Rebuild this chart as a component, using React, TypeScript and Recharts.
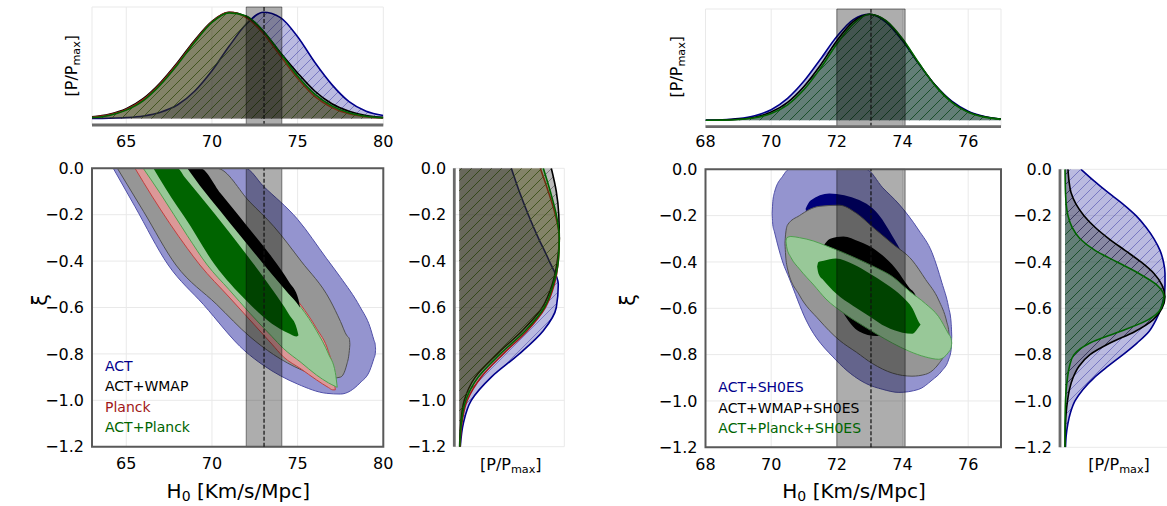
import React from "react";
import {
  ComposedChart,
  Area,
  XAxis,
  YAxis,
  CartesianGrid,
  ReferenceArea,
  ReferenceLine,
} from "recharts";

const FONT = "'DejaVu Sans', sans-serif";
const GRID = "#e9e9e9";
const SPINE = "#6a6a6a";
const FRAME = "#595959";

const C_ACT = "#00008b";
const C_WMAP = "#000000";
const C_PLANCK = "#a01818";
const C_ACTPL = "#006400";

// SH0ES prior band
const shoesLow = 72.0;
const shoesHigh = 74.08;
const shoesMean = 73.04;

const hTicksL = [65, 70, 75, 80];
const hTicksR = [68, 70, 72, 74, 76];
const xiTicks = [0, -0.2, -0.4, -0.6, -0.8, -1.0, -1.2];
const pTicks = [0, 0.5, 1];

// ---- left panel, H0 marginal ----
const h0GridL = [63, 64, 65, 66, 67, 68, 69, 70, 71, 72, 73, 74, 75, 76, 77, 78, 79, 80];
const pActL = [0.002, 0.004, 0.01, 0.025, 0.06, 0.13, 0.26, 0.45, 0.68, 0.89, 1.0, 0.95, 0.77, 0.53, 0.32, 0.16, 0.07, 0.03];
const pWmapL = [0.016, 0.041, 0.093, 0.19, 0.34, 0.53, 0.74, 0.915, 1.0, 0.96, 0.82, 0.62, 0.43, 0.26, 0.14, 0.07, 0.03, 0.012];
const pPlanckL = [0.012, 0.035, 0.085, 0.18, 0.33, 0.52, 0.73, 0.91, 1.0, 0.95, 0.8, 0.59, 0.38, 0.21, 0.105, 0.045, 0.017, 0.006];
const pActPlL = [0.01, 0.03, 0.08, 0.17, 0.32, 0.51, 0.72, 0.905, 0.995, 0.965, 0.825, 0.615, 0.4, 0.23, 0.12, 0.055, 0.022, 0.008];

// ---- right panel, H0 marginal ----
const h0GridR = [68, 68.5, 69, 69.5, 70, 70.5, 71, 71.5, 72, 72.5, 73, 73.5, 74, 74.5, 75, 75.5, 76, 76.5, 77];
const pActR = [0.0016, 0.0055, 0.017, 0.044, 0.1, 0.207, 0.37, 0.576, 0.79, 0.95, 1.0, 0.924, 0.75, 0.53, 0.33, 0.18, 0.087, 0.037, 0.013];
const pWmapR = [0.001, 0.003, 0.011, 0.03, 0.078, 0.17, 0.32, 0.52, 0.75, 0.93, 1.0, 0.935, 0.76, 0.535, 0.33, 0.175, 0.08, 0.033, 0.012];
const pActPlR = [0.0005, 0.002, 0.008, 0.024, 0.064, 0.146, 0.29, 0.49, 0.72, 0.91, 1.0, 0.94, 0.77, 0.54, 0.325, 0.17, 0.076, 0.03, 0.01];

// ---- left panel, xi marginal (xi ascending) ----
const xiGridL = [-1.2, -1.1, -1.0, -0.9, -0.8, -0.7, -0.6, -0.5, -0.4, -0.3, -0.2, -0.1, 0];
const qActL = [0.01, 0.04, 0.12, 0.32, 0.6, 0.84, 0.97, 0.99, 0.9, 0.79, 0.69, 0.6, 0.52];
const qWmapL = [0.003, 0.015, 0.05, 0.16, 0.38, 0.63, 0.83, 0.93, 0.98, 1.0, 0.995, 0.97, 0.92];
const qPlanckL = [0.008, 0.025, 0.08, 0.22, 0.44, 0.68, 0.86, 0.95, 0.99, 1.0, 0.96, 0.89, 0.81];
const qActPlL = [0.005, 0.02, 0.065, 0.19, 0.41, 0.66, 0.85, 0.94, 0.99, 1.0, 0.97, 0.91, 0.84];

// ---- right panel, xi marginal (xi ascending) ----
const xiGridR = [
  -1.2, -1.15, -1.1, -1.05, -1.0, -0.95, -0.9, -0.85, -0.8, -0.75, -0.7, -0.65, -0.6,
  -0.55, -0.5, -0.45, -0.4, -0.35, -0.3, -0.25, -0.2, -0.15, -0.1, -0.05, 0,
];
const qActR = [0.005, 0.012, 0.028, 0.055, 0.1, 0.18, 0.29, 0.43, 0.58, 0.72, 0.84, 0.91, 0.96, 0.99, 1.0, 1.0, 0.985, 0.95, 0.89, 0.81, 0.71, 0.58, 0.43, 0.29, 0.16];
const qWmapR = [0.0, 0.002, 0.005, 0.012, 0.025, 0.045, 0.08, 0.14, 0.25, 0.45, 0.7, 0.88, 0.97, 1.0, 0.97, 0.89, 0.76, 0.6, 0.44, 0.3, 0.19, 0.11, 0.06, 0.04, 0.03];
const qActPlR = [0, 0, 0, 0.002, 0.005, 0.012, 0.025, 0.045, 0.09, 0.25, 0.55, 0.83, 0.96, 0.99, 0.92, 0.74, 0.52, 0.3, 0.15, 0.07, 0.03, 0.012, 0.005, 0.002, 0];

// ---- 2D contours: [H0, xi lower edge, xi upper edge] ----
type Row = [number, number, number];

const ctActL2: Row[] = [
  [64.24, 0, 0], [65.5, -0.164, 0], [67.45, -0.417, 0], [69.5, -0.587, 0], [71.93, -0.788, 0],
  [73, -0.849, -0.077], [75, -0.93, -0.22], [76.7, -0.97, -0.39], [77.5, -0.973, -0.47],
  [78.64, -0.925, -0.597], [79.22, -0.87, -0.683], [79.45, -0.82, -0.74], [79.53, -0.8, -0.76],
  [79.55, -0.78, -0.78],
];
const ctWmapL2: Row[] = [
  [64.48, 0, 0], [66, -0.185, 0], [67.9, -0.417, 0], [70.28, -0.587, 0], [72.22, -0.726, -0.146],
  [73.6, -0.803, -0.25], [75.2, -0.868, -0.4], [76.89, -0.906, -0.568], [77.5, -0.9, -0.66],
  [77.86, -0.848, -0.72], [78.02, -0.785, -0.735], [78.05, -0.76, -0.76],
];
const ctPlanckL2: Row[] = [
  [65.51, 0, 0], [66.5, -0.12, 0], [68.56, -0.345, 0], [69.3, -0.417, -0.06], [71, -0.555, -0.2],
  [72.22, -0.654, -0.31], [73.5, -0.758, -0.44], [74.16, -0.812, -0.5], [75.2, -0.865, -0.59],
  [76.1, -0.912, -0.69], [76.8, -0.945, -0.79], [77.05, -0.955, -0.86], [77.2, -0.955, -0.955],
];
const ctActPlL2: Row[] = [
  [65.99, 0, 0], [67, -0.11, 0], [68.56, -0.29, 0], [69.73, -0.417, -0.102], [71, -0.523, -0.214],
  [72.22, -0.625, -0.322], [73.5, -0.725, -0.45], [74.16, -0.776, -0.511], [75.2, -0.837, -0.6],
  [76.1, -0.891, -0.7], [76.8, -0.925, -0.8], [77.2, -0.94, -0.88], [77.31, -0.944, -0.944],
];
const ctActPlL1: Row[] = [
  [66.58, 0, 0], [67.98, -0.165, 0], [68.4, -0.21, -0.037], [70.18, -0.417, -0.198],
  [72, -0.57, -0.37], [73.5, -0.67, -0.52], [74.5, -0.712, -0.63], [74.95, -0.725, -0.69],
  [75.05, -0.72, -0.72],
];
const ctWmapL1: Row[] = [
  [68.56, 0, 0], [69.3, -0.075, 0], [70.5, -0.185, -0.108], [71.5, -0.277, -0.198],
  [72.5, -0.367, -0.29], [73.5, -0.457, -0.383], [74.5, -0.543, -0.49], [75.05, -0.59, -0.565],
  [75.14, -0.6, -0.6],
];

const ctActR2: Row[] = [
  [70.03, -0.19, -0.19], [70.05, -0.24, -0.14], [70.1, -0.27, -0.1], [70.35, -0.4, -0.03],
  [70.55, -0.47, 0], [71.06, -0.65, 0], [71.97, -0.823, 0], [72.88, -0.924, 0], [73.4, -0.95, -0.08],
  [73.89, -0.963, -0.15], [74.49, -0.95, -0.262], [74.9, -0.91, -0.36], [75.2, -0.87, -0.49],
  [75.4, -0.823, -0.593], [75.48, -0.78, -0.66], [75.5, -0.72, -0.72],
];
const ctActR1: Row[] = [
  [71.05, -0.17, -0.17], [71.2, -0.28, -0.135], [71.77, -0.38, -0.104], [72.68, -0.48, -0.133],
  [73.28, -0.52, -0.197], [73.7, -0.52, -0.29], [74.0, -0.45, -0.37], [74.1, -0.41, -0.41],
];
const ctWmapR2: Row[] = [
  [70.42, -0.32, -0.32], [70.44, -0.37, -0.28], [70.5, -0.43, -0.24], [70.86, -0.543, -0.2],
  [71.46, -0.65, -0.16], [72.07, -0.737, -0.155], [72.6, -0.79, -0.19], [73.08, -0.838, -0.248],
  [73.7, -0.88, -0.322], [74.29, -0.893, -0.392], [74.7, -0.885, -0.475], [75.1, -0.84, -0.564],
  [75.35, -0.78, -0.66], [75.41, -0.755, -0.7], [75.42, -0.73, -0.73],
];
const ctWmapR1: Row[] = [
  [71.55, -0.34, -0.34], [71.8, -0.5, -0.3], [72.2, -0.62, -0.29], [72.68, -0.7, -0.312],
  [73.2, -0.72, -0.35], [73.8, -0.7, -0.43], [74.2, -0.64, -0.51], [74.4, -0.6, -0.545],
  [74.44, -0.57, -0.57],
];
const ctActPlR2: Row[] = [
  [70.45, -0.31, -0.31], [70.48, -0.34, -0.295], [70.6, -0.38, -0.29], [70.86, -0.43, -0.295],
  [71.3, -0.5, -0.31], [71.67, -0.56, -0.33], [72.2, -0.62, -0.36], [72.68, -0.665, -0.39],
  [73.2, -0.71, -0.425], [73.69, -0.75, -0.463], [74.2, -0.785, -0.525], [74.7, -0.81, -0.58],
  [75.1, -0.82, -0.636], [75.4, -0.79, -0.71], [75.48, -0.77, -0.73], [75.5, -0.75, -0.75],
];
const ctActPlR1: Row[] = [
  [71.4, -0.42, -0.42], [71.44, -0.45, -0.4], [71.6, -0.48, -0.395], [71.97, -0.535, -0.385],
  [72.5, -0.59, -0.41], [73.0, -0.635, -0.45], [73.5, -0.68, -0.495], [74.0, -0.705, -0.55],
  [74.3, -0.71, -0.6], [74.5, -0.68, -0.66], [74.55, -0.67, -0.67],
];

const legendL = ["ACT", "ACT+WMAP", "Planck", "ACT+Planck"];
const legendLColors = [C_ACT, C_WMAP, C_PLANCK, C_ACTPL];
const legendR = ["ACT+SH0ES", "ACT+WMAP+SH0ES", "ACT+Planck+SH0ES"];
const legendRColors = [C_ACT, C_WMAP, C_ACTPL];

type Series = { key: string; color: string; values: number[] };

const topSeriesL: Series[] = [
  { key: "act", color: C_ACT, values: pActL },
  { key: "wmap", color: C_WMAP, values: pWmapL },
  { key: "planck", color: C_PLANCK, values: pPlanckL },
  { key: "actpl", color: C_ACTPL, values: pActPlL },
];
const topSeriesR: Series[] = [
  { key: "act", color: C_ACT, values: pActR },
  { key: "wmap", color: C_WMAP, values: pWmapR },
  { key: "actpl", color: C_ACTPL, values: pActPlR },
];
const sideSeriesL: Series[] = [
  { key: "act", color: C_ACT, values: qActL },
  { key: "wmap", color: C_WMAP, values: qWmapL },
  { key: "planck", color: C_PLANCK, values: qPlanckL },
  { key: "actpl", color: C_ACTPL, values: qActPlL },
];
const sideSeriesR: Series[] = [
  { key: "act", color: C_ACT, values: qActR },
  { key: "wmap", color: C_WMAP, values: qWmapR },
  { key: "actpl", color: C_ACTPL, values: qActPlR },
];

const tickStyle = { fontSize: 16, fill: "#000", fontFamily: FONT };
const fmtXi = (v: number) => (v === 0 ? "0.0" : v.toFixed(1).replace("-", "\u2212"));

const toRange = (rows: Row[]) => rows.map(([x, lo, hi]) => ({ x, r: [lo, hi] }));
const buildRows = (gridKey: string, grid: number[], series: Series[]) =>
  grid.map((g, i) => {
    const row: Record<string, number> = { [gridKey]: g };
    series.forEach((s) => (row[s.key] = s.values[i]));
    return row;
  });

function Hatch({ id, color }: { id: string; color: string }) {
  return (
    <pattern id={id} patternUnits="userSpaceOnUse" width={10} height={10}>
      <rect width={10} height={10} fill={color} fillOpacity={0.27} />
      <path d="M-1,1 L1,-1 M0,10 L10,0 M9,11 L11,9" stroke={color} strokeOpacity={0.4} strokeWidth={0.9} />
    </pattern>
  );
}

function contour(key: string, rows: Row[], fill: string, stroke = "none") {
  return (
    <Area
      key={key}
      data={toRange(rows)}
      dataKey="r"
      type="monotone"
      fill={fill}
      fillOpacity={1}
      stroke={stroke}
      strokeWidth={1}
      dot={false}
      activeDot={false}
      isAnimationActive={false}
    />
  );
}

type Box = { left: number; top: number; width: number; height: number; mt: number; mr: number; yw: number; xh: number };

const boxTopL: Box = { left: 0, top: 0, width: 400, height: 165, mt: 7, mr: 16.7, yw: 92, xh: 40 };
const boxMainL: Box = { left: 0, top: 160, width: 400, height: 320, mt: 8.3, mr: 16.7, yw: 92, xh: 33.3 };
const boxSideL: Box = { left: 400, top: 160, width: 170, height: 320, mt: 8.3, mr: 5.7, yw: 54.3, xh: 33.3 };
const boxTopR: Box = { left: 600, top: 0, width: 420, height: 165, mt: 9, mr: 19, yw: 105.5, xh: 38.3 };
const boxMainR: Box = { left: 600, top: 160, width: 420, height: 320, mt: 9.3, mr: 19, yw: 105.5, xh: 32.7 };
const boxSideR: Box = { left: 1000, top: 160, width: 170, height: 320, mt: 9.3, mr: 0, yw: 60, xh: 32.7 };

function TopMarginal({ box, domain, ticks, grid, series, tickMargin, id }: {
  box: Box; domain: [number, number]; ticks: number[]; grid: number[]; series: Series[]; tickMargin: number; id: string;
}) {
  const rows = buildRows("h", grid, series);
  return (
    <div style={{ position: "absolute", left: box.left, top: box.top }}>
      <ComposedChart width={box.width} height={box.height} data={rows} margin={{ top: box.mt, right: box.mr, bottom: 0, left: 0 }}>
        <defs>
          {series.map((s) => (
            <Hatch key={s.key} id={`${id}-${s.key}`} color={s.color} />
          ))}
        </defs>
        <CartesianGrid stroke={GRID} />
        {series.map((s) => (
          <Area
            key={s.key}
            type="monotone"
            dataKey={s.key}
            stroke={s.color}
            strokeWidth={1.6}
            fill={`url(#${id}-${s.key})`}
            fillOpacity={1}
            dot={false}
            activeDot={false}
            isAnimationActive={false}
          />
        ))}
        <ReferenceArea x1={shoesLow} x2={shoesHigh} fill="#000" fillOpacity={0.32} stroke="#000" strokeOpacity={0.45} strokeWidth={1} />
        <ReferenceLine x={shoesMean} stroke="#111" strokeWidth={1.2} strokeDasharray="4 2" />
        <XAxis
          type="number"
          dataKey="h"
          domain={domain}
          ticks={ticks}
          allowDataOverflow
          height={box.xh}
          tickLine={false}
          axisLine={{ stroke: SPINE, strokeWidth: 2.8 }}
          tickMargin={tickMargin}
          tick={tickStyle}
          interval={0}
        />
        <YAxis type="number" domain={[-0.06, 1.05]} ticks={pTicks} allowDataOverflow width={box.yw} tick={false} tickLine={false} axisLine={false} />
      </ComposedChart>
    </div>
  );
}

function MainPanel({ box, domain, ticks, children }: {
  box: Box; domain: [number, number]; ticks: number[]; children: React.ReactNode;
}) {
  return (
    <div style={{ position: "absolute", left: box.left, top: box.top }}>
      <ComposedChart width={box.width} height={box.height} margin={{ top: box.mt, right: box.mr, bottom: 0, left: 0 }}>
        <CartesianGrid stroke={GRID} />
        {children}
        <ReferenceArea x1={shoesLow} x2={shoesHigh} fill="#000" fillOpacity={0.32} stroke="#000" strokeOpacity={0.45} strokeWidth={1} />
        <ReferenceLine x={shoesMean} stroke="#111" strokeWidth={1.2} strokeDasharray="4 2" />
        <XAxis
          type="number"
          dataKey="x"
          domain={domain}
          ticks={ticks}
          allowDataOverflow
          height={box.xh}
          tickLine={false}
          axisLine={false}
          tickMargin={5}
          tick={tickStyle}
          interval={0}
        />
        <YAxis
          type="number"
          domain={[-1.2, 0]}
          ticks={xiTicks}
          allowDataOverflow
          width={box.yw}
          tickLine={false}
          axisLine={false}
          tickFormatter={fmtXi}
          tick={tickStyle}
          interval={0}
        />
        <ReferenceArea x1={domain[0]} x2={domain[1]} y1={-1.2} y2={0} fill="none" stroke={FRAME} strokeWidth={2} />
      </ComposedChart>
    </div>
  );
}

function SideMarginal({ box, grid, series, id }: { box: Box; grid: number[]; series: Series[]; id: string }) {
  const rows = buildRows("xi", grid, series);
  return (
    <div style={{ position: "absolute", left: box.left, top: box.top }}>
      <ComposedChart layout="vertical" width={box.width} height={box.height} data={rows} margin={{ top: box.mt, right: box.mr, bottom: 0, left: 0 }}>
        <defs>
          {series.map((s) => (
            <Hatch key={s.key} id={`${id}-${s.key}`} color={s.color} />
          ))}
        </defs>
        <CartesianGrid stroke={GRID} />
        {series.map((s) => (
          <Area
            key={s.key}
            type="monotone"
            dataKey={s.key}
            stroke={s.color}
            strokeWidth={1.6}
            fill={`url(#${id}-${s.key})`}
            fillOpacity={1}
            dot={false}
            activeDot={false}
            isAnimationActive={false}
          />
        ))}
        <XAxis type="number" domain={[-0.05, 1.05]} ticks={pTicks} allowDataOverflow height={box.xh} tick={false} tickLine={false} axisLine={false} />
        <YAxis
          type="number"
          dataKey="xi"
          domain={[-1.2, 0]}
          ticks={xiTicks}
          reversed
          allowDataOverflow
          width={box.yw}
          tickLine={false}
          axisLine={{ stroke: SPINE, strokeWidth: 2.8 }}
          tickFormatter={fmtXi}
          tick={tickStyle}
          interval={0}
        />
      </ComposedChart>
    </div>
  );
}

function PLabel({ x, y, rotate }: { x: number; y: number; rotate?: boolean }) {
  return (
    <text x={x} y={y} textAnchor="middle" fontSize={16} transform={rotate ? `rotate(-90 ${x} ${y})` : undefined}>
      [P/P<tspan fontSize={11.2} dy={3}>max</tspan>
      <tspan dy={-3}>]</tspan>
    </text>
  );
}

function HLabel({ x, y }: { x: number; y: number }) {
  return (
    <text x={x} y={y} textAnchor="middle" fontSize={20} style={{ whiteSpace: "pre" }}>
      H<tspan fontSize={14} dy={3}>0</tspan>
      <tspan dy={-3}> [Km/s/Mpc]</tspan>
    </text>
  );
}

function Labels() {
  return (
    <svg width={1167} height={506} style={{ position: "absolute", left: 0, top: 0, pointerEvents: "none" }} fontFamily={FONT}>
      <PLabel x={77.5} y={65.7} rotate />
      <PLabel x={682.5} y={66.7} rotate />
      <PLabel x={510.8} y={470} />
      <PLabel x={1119} y={470} />
      <HLabel x={238.3} y={498} />
      <HLabel x={854} y={498} />
      <text x={47} y={300} fontSize={21} textAnchor="middle" transform="rotate(-90 47 300)">ξ</text>
      <text x={635} y={300} fontSize={21} textAnchor="middle" transform="rotate(-90 635 300)">ξ</text>
      {legendL.map((t, i) => (
        <text key={t} x={105} y={370.7 + i * 20.5} fontSize={14} fill={legendLColors[i]}>{t}</text>
      ))}
      {legendR.map((t, i) => (
        <text key={t} x={718.3} y={391.7 + i * 20.8} fontSize={14} fill={legendRColors[i]}>{t}</text>
      ))}
    </svg>
  );
}

export default function App() {
  return (
    <div style={{ position: "absolute", left: 0, top: 0, width: 1167, height: 506, overflow: "hidden", background: "#fff", fontFamily: FONT }}>
      <TopMarginal box={boxTopL} domain={[63, 80]} ticks={hTicksL} grid={h0GridL} series={topSeriesL} tickMargin={4.5} id="tl" />
      <TopMarginal box={boxTopR} domain={[68, 77]} ticks={hTicksR} grid={h0GridR} series={topSeriesR} tickMargin={2.5} id="tr" />
      <MainPanel box={boxMainL} domain={[63, 80]} ticks={hTicksL}>
        {contour("a2", ctActL2, "#9494cf", "#5050a8")}
        {contour("w2", ctWmapL2, "#969696", "#505050")}
        {contour("p2", ctPlanckL2, "#dc9898", "#c04040")}
        {contour("ap2", ctActPlL2, "#98c898", "#50a050")}
        {contour("ap1", ctActPlL1, "#006400")}
        {contour("w1", ctWmapL1, "#000000")}
      </MainPanel>
      <MainPanel box={boxMainR} domain={[68, 77]} ticks={hTicksR}>
        {contour("a2", ctActR2, "#9494cf", "#5050a8")}
        {contour("a1", ctActR1, "#00007a")}
        {contour("w2", ctWmapR2, "#969696", "#505050")}
        {contour("w1", ctWmapR1, "#000000")}
        {contour("ap2", ctActPlR2, "#98c898", "#50a050")}
        {contour("ap1", ctActPlR1, "#006400")}
      </MainPanel>
      <SideMarginal box={boxSideL} grid={xiGridL} series={sideSeriesL} id="sl" />
      <SideMarginal box={boxSideR} grid={xiGridR} series={sideSeriesR} id="sr" />
      <Labels />
    </div>
  );
}
